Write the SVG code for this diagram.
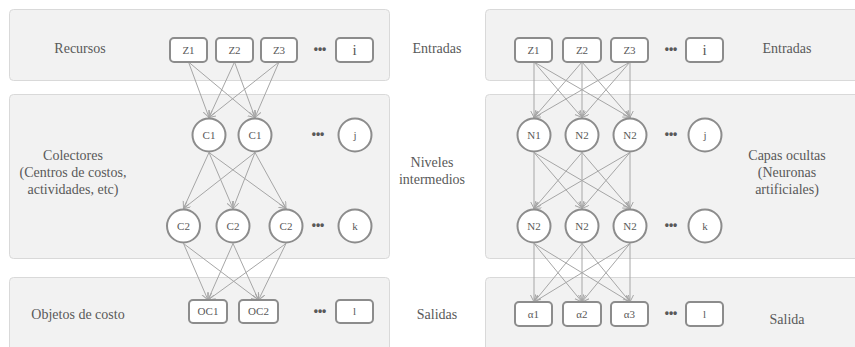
<svg xmlns="http://www.w3.org/2000/svg" width="855" height="347" viewBox="0 0 855 347">
<style>
.panel{fill:#f2f2f2;stroke:#d9d9d9;stroke-width:1}
.node{fill:#ffffff;stroke:#8c8c8c;stroke-width:2}
text{font-family:'Liberation Serif','Times New Roman','DejaVu Serif',serif;fill:#595959;text-anchor:middle}
.lbl{font-size:14px}
.nl{font-size:11px}
.nlb{font-size:15px}
.dots{font-family:'Liberation Sans',sans-serif;font-size:12px;font-weight:bold}
.edge{stroke:#a6a6a6;stroke-width:1;fill:none;marker-end:url(#arr)}
</style>
<defs>
<marker id="arr" markerUnits="userSpaceOnUse" markerWidth="10" markerHeight="10" refX="7" refY="3.5" orient="auto">
<path d="M0,0 L7,3.5 L0,7" fill="none" stroke="#a6a6a6" stroke-width="1"/>
</marker>
</defs>
<rect width="855" height="347" fill="#ffffff"/>
<g id="panels">
<rect class="panel" x="9.5" y="9.5" width="380" height="71" rx="4"/>
<rect class="panel" x="9.5" y="94.5" width="380" height="164" rx="4"/>
<rect class="panel" x="9.5" y="277.5" width="380" height="80" rx="4"/>
<rect class="panel" x="485.5" y="9.5" width="380" height="71" rx="4"/>
<rect class="panel" x="485.5" y="94.5" width="380" height="164" rx="4"/>
<rect class="panel" x="485.5" y="277.5" width="380" height="80" rx="4"/>
</g>
<g id="labels" font-family="'Liberation Serif', serif">
<text class="lbl" x="80" y="53">Recursos</text>
<text class="lbl" x="73" y="160">Colectores</text>
<text class="lbl" x="73" y="177">(Centros de costos,</text>
<text class="lbl" x="73" y="194">actividades, etc)</text>
<text class="lbl" x="78" y="319">Objetos de costo</text>
<text class="lbl" x="437" y="53">Entradas</text>
<text class="lbl" x="432" y="167">Niveles</text>
<text class="lbl" x="432" y="184">intermedios</text>
<text class="lbl" x="437" y="319">Salidas</text>
<text class="lbl" x="787" y="53">Entradas</text>
<text class="lbl" x="787" y="160">Capas ocultas</text>
<text class="lbl" x="787" y="177">(Neuronas</text>
<text class="lbl" x="787" y="194">artificiales)</text>
<text class="lbl" x="787" y="324">Salida</text>
</g>
<g id="connectors">
<line class="edge" x1="188.5" y1="62" x2="209" y2="117.5"/>
<line class="edge" x1="188.5" y1="62" x2="255" y2="117.5"/>
<line class="edge" x1="234.5" y1="62" x2="209" y2="117.5"/>
<line class="edge" x1="234.5" y1="62" x2="255" y2="117.5"/>
<line class="edge" x1="279" y1="62" x2="209" y2="117.5"/>
<line class="edge" x1="279" y1="62" x2="255" y2="117.5"/>
<line class="edge" x1="209" y1="152.5" x2="183.5" y2="208.5"/>
<line class="edge" x1="209" y1="152.5" x2="233" y2="208.5"/>
<line class="edge" x1="209" y1="152.5" x2="286" y2="208.5"/>
<line class="edge" x1="255" y1="152.5" x2="183.5" y2="208.5"/>
<line class="edge" x1="255" y1="152.5" x2="233" y2="208.5"/>
<line class="edge" x1="255" y1="152.5" x2="286" y2="208.5"/>
<line class="edge" x1="183.5" y1="243.5" x2="208" y2="300"/>
<line class="edge" x1="183.5" y1="243.5" x2="258.5" y2="300"/>
<line class="edge" x1="233" y1="243.5" x2="208" y2="300"/>
<line class="edge" x1="233" y1="243.5" x2="258.5" y2="300"/>
<line class="edge" x1="286" y1="243.5" x2="208" y2="300"/>
<line class="edge" x1="286" y1="243.5" x2="258.5" y2="300"/>
<line class="edge" x1="534" y1="62" x2="534" y2="117.5"/>
<line class="edge" x1="534" y1="62" x2="582" y2="117.5"/>
<line class="edge" x1="534" y1="62" x2="630" y2="117.5"/>
<line class="edge" x1="582" y1="62" x2="534" y2="117.5"/>
<line class="edge" x1="582" y1="62" x2="582" y2="117.5"/>
<line class="edge" x1="582" y1="62" x2="630" y2="117.5"/>
<line class="edge" x1="630" y1="62" x2="534" y2="117.5"/>
<line class="edge" x1="630" y1="62" x2="582" y2="117.5"/>
<line class="edge" x1="630" y1="62" x2="630" y2="117.5"/>
<line class="edge" x1="534" y1="152.5" x2="534" y2="208.5"/>
<line class="edge" x1="534" y1="152.5" x2="582" y2="208.5"/>
<line class="edge" x1="534" y1="152.5" x2="630" y2="208.5"/>
<line class="edge" x1="582" y1="152.5" x2="534" y2="208.5"/>
<line class="edge" x1="582" y1="152.5" x2="582" y2="208.5"/>
<line class="edge" x1="582" y1="152.5" x2="630" y2="208.5"/>
<line class="edge" x1="630" y1="152.5" x2="534" y2="208.5"/>
<line class="edge" x1="630" y1="152.5" x2="582" y2="208.5"/>
<line class="edge" x1="630" y1="152.5" x2="630" y2="208.5"/>
<line class="edge" x1="534" y1="243.5" x2="534" y2="302"/>
<line class="edge" x1="534" y1="243.5" x2="582" y2="302"/>
<line class="edge" x1="534" y1="243.5" x2="630" y2="302"/>
<line class="edge" x1="582" y1="243.5" x2="534" y2="302"/>
<line class="edge" x1="582" y1="243.5" x2="582" y2="302"/>
<line class="edge" x1="582" y1="243.5" x2="630" y2="302"/>
<line class="edge" x1="630" y1="243.5" x2="534" y2="302"/>
<line class="edge" x1="630" y1="243.5" x2="582" y2="302"/>
<line class="edge" x1="630" y1="243.5" x2="630" y2="302"/>
</g>
<g id="lz1"><rect class="node" x="170" y="38" width="37" height="24" rx="4"/><text class="nl" x="188.5" y="54">Z1</text></g>
<g id="lz2"><rect class="node" x="216" y="38" width="37" height="24" rx="4"/><text class="nl" x="234.5" y="54">Z2</text></g>
<g id="lz3"><rect class="node" x="261" y="38" width="36" height="24" rx="4"/><text class="nl" x="279" y="54">Z3</text></g>
<g id="ldots1"><text class="dots" x="320" y="53">•••</text></g>
<g id="li"><rect class="node" x="336" y="38" width="37" height="24" rx="4"/><text class="nlb" x="354.5" y="55">i</text></g>
<g id="lc1a"><circle class="node" cx="209" cy="135" r="16.5"/><text class="nl" x="209" y="139">C1</text></g>
<g id="lc1b"><circle class="node" cx="255" cy="135" r="16.5"/><text class="nl" x="255" y="139">C1</text></g>
<g id="ldots2"><text class="dots" x="318" y="138">•••</text></g>
<g id="lj"><circle class="node" cx="355" cy="135" r="16.5"/><text class="nl" x="355" y="139">j</text></g>
<g id="lc2a"><circle class="node" cx="183.5" cy="226" r="16.5"/><text class="nl" x="183.5" y="230">C2</text></g>
<g id="lc2b"><circle class="node" cx="233" cy="226" r="16.5"/><text class="nl" x="233" y="230">C2</text></g>
<g id="lc2c"><circle class="node" cx="286" cy="226" r="16.5"/><text class="nl" x="286" y="230">C2</text></g>
<g id="ldots3"><text class="dots" x="318" y="229">•••</text></g>
<g id="lk"><circle class="node" cx="355" cy="226" r="16.5"/><text class="nl" x="355" y="230">k</text></g>
<g id="loc1"><rect class="node" x="189" y="300" width="38" height="23" rx="4"/><text class="nl" x="208" y="315">OC1</text></g>
<g id="loc2"><rect class="node" x="239" y="300" width="39" height="23" rx="4"/><text class="nl" x="258.5" y="315">OC2</text></g>
<g id="ldots4"><text class="dots" x="320" y="315">•••</text></g>
<g id="ll"><rect class="node" x="336" y="300" width="37" height="23" rx="4"/><text class="nl" x="354.5" y="315">l</text></g>
<g id="rz1"><rect class="node" x="515" y="38" width="37" height="24" rx="4"/><text class="nl" x="533.5" y="54">Z1</text></g>
<g id="rz2"><rect class="node" x="563" y="38" width="38" height="24" rx="4"/><text class="nl" x="582" y="54">Z2</text></g>
<g id="rz3"><rect class="node" x="611" y="38" width="37" height="24" rx="4"/><text class="nl" x="629.5" y="54">Z3</text></g>
<g id="rdots1"><text class="dots" x="671" y="53">•••</text></g>
<g id="ri"><rect class="node" x="686" y="38" width="37" height="24" rx="4"/><text class="nlb" x="704.5" y="55">i</text></g>
<g id="rn1"><circle class="node" cx="534" cy="135" r="16.5"/><text class="nl" x="534" y="139">N1</text></g>
<g id="rn2a"><circle class="node" cx="582" cy="135" r="16.5"/><text class="nl" x="582" y="139">N2</text></g>
<g id="rn2b"><circle class="node" cx="630" cy="135" r="16.5"/><text class="nl" x="630" y="139">N2</text></g>
<g id="rdots2"><text class="dots" x="671" y="138">•••</text></g>
<g id="rj"><circle class="node" cx="705" cy="135" r="16.5"/><text class="nl" x="705" y="139">j</text></g>
<g id="rn2c"><circle class="node" cx="534" cy="226" r="16.5"/><text class="nl" x="534" y="230">N2</text></g>
<g id="rn2d"><circle class="node" cx="582" cy="226" r="16.5"/><text class="nl" x="582" y="230">N2</text></g>
<g id="rn2e"><circle class="node" cx="630" cy="226" r="16.5"/><text class="nl" x="630" y="230">N2</text></g>
<g id="rdots3"><text class="dots" x="671" y="229">•••</text></g>
<g id="rk"><circle class="node" cx="705" cy="226" r="16.5"/><text class="nl" x="705" y="230">k</text></g>
<g id="ra1"><rect class="node" x="515" y="302" width="37" height="24" rx="4"/><text class="nl" x="533.5" y="318">α1</text></g>
<g id="ra2"><rect class="node" x="563" y="302" width="38" height="24" rx="4"/><text class="nl" x="582" y="318">α2</text></g>
<g id="ra3"><rect class="node" x="611" y="302" width="37" height="24" rx="4"/><text class="nl" x="629.5" y="318">α3</text></g>
<g id="rdots4"><text class="dots" x="671" y="317">•••</text></g>
<g id="rl"><rect class="node" x="686" y="302" width="37" height="24" rx="4"/><text class="nl" x="704.5" y="318">l</text></g>
</svg>
